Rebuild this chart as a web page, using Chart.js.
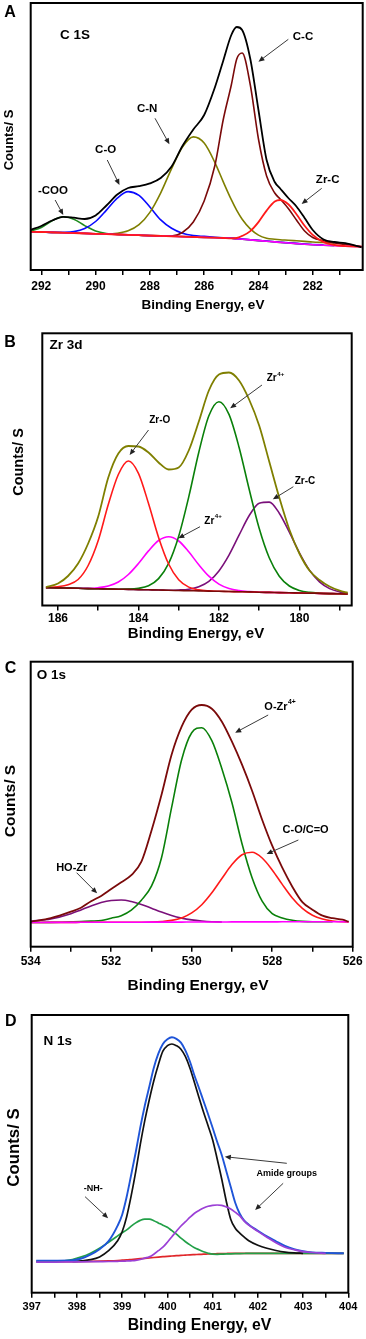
<!DOCTYPE html>
<html>
<head>
<meta charset="utf-8">
<script src="https://cdn.jsdelivr.net/npm/chart.js@4.4.1/dist/chart.umd.min.js"></script>
<style>
  html, body { margin:0; padding:0; background:#fff; }
  body { width:366px; height:1339px; position:relative; overflow:hidden; }
  canvas { position:absolute; left:0; }
</style>
</head>
<body>
<canvas id="cA" width="366" height="320" style="top:0px;width:366px;height:320px"></canvas>
<canvas id="cB" width="366" height="330" style="top:320px;width:366px;height:330px"></canvas>
<canvas id="cC" width="366" height="350" style="top:650px;width:366px;height:350px"></canvas>
<canvas id="cD" width="366" height="339" style="top:1000px;width:366px;height:339px"></canvas>
<script>
// ---------------- DATA (binding energy in eV, intensity in arbitrary counts) ----------------
// Panel A: C 1s
const A_eV    = [292.4, 292.0, 291.6, 291.2, 290.8, 290.4, 290.0, 289.6, 289.2, 288.8, 288.4, 288.0, 287.6, 287.2, 286.8, 286.4, 286.0, 285.6, 285.3, 285.0, 284.8, 284.6, 284.3, 284.0, 283.7, 283.4, 283.2, 282.9, 282.6, 282.3, 282.0, 281.6, 281.2, 280.8, 280.2];
const A_total = [40, 44, 49.5, 53.2, 52.3, 51.0, 54.5, 64.5, 75.5, 82, 83.8, 86.6, 92, 103.5, 124, 140.5, 155, 183, 209, 235, 243, 240, 211, 160, 110, 88, 81.5, 72, 63.5, 52, 40, 30.5, 28, 26.8, 22.7];
const A_CC    = [38.3, 38.0, 37.6, 37.3, 36.9, 36.6, 36.2, 35.9, 35.5, 35.2, 34.8, 34.4, 34.1, 34.0, 37.5, 48, 69, 105, 150, 185, 211, 217, 185, 131, 94, 77, 71, 61.5, 50, 39, 32.5, 29.3, 27, 25.5, 23.5];
const A_CN    = [38.3, 38.0, 37.6, 37.3, 36.9, 36.6, 36.2, 36.2, 36.8, 39.2, 45.3, 57.6, 77.2, 101.4, 123.0, 133.1, 126.9, 107.2, 88.4, 70.3, 59.6, 50.8, 41.1, 34.9, 31.8, 30.8, 30.3, 29.8, 29.2, 28.6, 28.0, 27.5, 27.0, null, null];
const A_CO    = [38.3, 38.0, 37.6, 37.7, 38.4, 41.5, 48.5, 59.9, 71.9, 78.4, 74.6, 63.0, 50.1, 41.7, 36.8, 34.5, 33.6, 32.8, 32.3, 31.9, 31.4, 31.0, 30.3, 29.6, 29.0, 28.3, 27.8, 27.2, 26.6, 26.0, 25.5, 25.0, null, null, null];
const A_COO   = [38.8, 42.5, 49.2, 53.2, 50.8, 44.4, 39.0, 36.5, 35.6, 35.2, 34.8, 34.4, 34.1, 33.7, 33.4, 33.0, 32.6, 32.3, 32.0, 31.7, 31.2, 30.8, 30.1, 29.4, 28.8, 28.1, 27.6, 27.0, 26.4, 25.8, 25.3, 24.8, 24.3, null, null];
const A_ZrC   = [38.3, 38.0, 37.6, 37.3, 36.9, 36.6, 36.2, 35.9, 35.5, 35.2, 34.8, 34.4, 34.1, 33.7, 33.4, 33.0, 32.6, 32.3, 32.0, 31.7, 32.0, 34.1, 38.9, 47.9, 59.4, 68.4, 70.0, 65.7, 55.8, 44.3, 35.1, 27.9, 25.0, 23.9, 23.3];
const A_base  = [38.3, 38.0, 37.6, 37.3, 36.9, 36.6, 36.2, 35.9, 35.5, 35.2, 34.8, 34.4, 34.1, 33.7, 33.4, 33.0, 32.6, 32.3, 32.0, 31.7, 31.2, 30.8, 30.1, 29.4, 28.8, 28.1, 27.6, 27.0, 26.4, 25.8, 25.3, 24.8, 24.3, 23.8, 23.3];
const A_ticks  = [281, 282, 283, 284, 285, 286, 287, 288, 289, 290, 291, 292];
const A_labels = [282, 284, 286, 288, 290, 292];

// Panel B: Zr 3d
const B_eV     = [186.3, 186.0, 185.75, 185.5, 185.25, 185.0, 184.75, 184.5, 184.25, 184.0, 183.75, 183.5, 183.25, 183.0, 182.75, 182.5, 182.25, 182.0, 181.75, 181.5, 181.25, 181.0, 180.75, 180.5, 180.25, 180.0, 179.75, 179.5, 179.25, 179.0, 178.8];
const B_total  = [18.5, 22, 29.5, 42, 62, 89, 128, 152, 159.5, 159, 153, 143, 136, 138, 155, 184, 215, 231, 233, 225, 206, 180, 144, 108, 76, 52, 35, 25.5, 19, 14.8, 12.8];
const B_ZrO    = [18.0, 18.8, 20.8, 26, 40, 65, 101, 131, 144.5, 132.2, 102.0, 68.1, 41.5, 25.8, 18.4, 15.6, 14.6, 14.2, 14.0, 13.8, 13.6, 13.3, 13.1, 12.9, 12.7, 12.5, 12.3, 12.1, 11.9, 11.7, 11.5];
const B_Zr4b   = [17.8, 17.6, 17.4, 17.2, 17.2, 17.8, 19.5, 23.5, 31.0, 42.0, 54.6, 65.0, 68.8, 64.5, 53.7, 40.7, 29.3, 21.4, 17.0, 14.9, 13.9, 13.3, 13.1, 12.9, 12.7, 12.5, 12.3, 12.1, 11.9, 11.7, 11.5];
const B_Zr4a   = [17.8, 17.6, 17.4, 17.2, 16.9, 16.7, 16.5, 16.3, 16.4, 17.2, 19.8, 26.9, 42.1, 69.3, 108.6, 153.3, 189.7, 203.8, 191.1, 158.3, 116.5, 77.2, 47.7, 29.3, 19.5, 15.0, 13.1, 12.3, 11.9, 11.7, 11.5];
const B_ZrC    = [17.8, 17.6, 17.4, 17.2, 16.9, 16.7, 16.5, 16.3, 16.1, 15.9, 15.7, 15.5, 15.2, 15.5, 16.3, 18.8, 24.2, 34.6, 50.4, 70.3, 89.7, 102.3, 103.4, 92.3, 73.3, 52.7, 35.4, 23.6, 16.9, 13.6, 12.2];
const B_base   = [17.8, 17.6, 17.4, 17.2, 16.9, 16.7, 16.5, 16.3, 16.1, 15.9, 15.7, 15.5, 15.2, 15.0, 14.8, 14.6, 14.4, 14.2, 14.0, 13.8, 13.6, 13.3, 13.1, 12.9, 12.7, 12.5, 12.3, 12.1, 11.9, 11.7, 11.5];
const B_ticks  = [179, 180, 181, 182, 183, 184, 185, 186];
const B_labels = [180, 182, 184, 186];

// Panel C: O 1s
const C_eV     = [534.0, 533.5, 533.0, 532.75, 532.5, 532.25, 532.0, 531.75, 531.5, 531.25, 531.0, 530.75, 530.5, 530.25, 530.0, 529.75, 529.5, 529.25, 529.0, 528.75, 528.5, 528.25, 528.0, 527.75, 527.5, 527.25, 527.0, 526.75, 526.5, 526.25, 526.1];
const C_total  = [25, 28.6, 35, 39, 45.4, 50.8, 57.7, 64.5, 71.5, 85, 116, 152, 192, 220, 237, 241.7, 238, 225, 205, 182, 156, 127, 101, 79, 60, 44.5, 37, 31, 28.5, 27, 25];
const C_OZr    = [24.2, 24.3, 24.8, 25.1, 25.6, 26.2, 28.5, 31, 36.5, 46.5, 60.5, 89, 139, 187, 214, 219, 206, 178, 144, 103, 69, 45.5, 33, 28.8, 26.5, 25.3, 24.9, 24.9, 25.0, null, null];
const C_CO     = [24.2, 24.3, 24.3, 24.4, 24.4, 24.4, 24.5, 24.5, 24.5, 24.5, 24.7, 25.2, 26.3, 28.8, 33.8, 42.0, 53.9, 68.2, 82.1, 91.9, 94.4, 88.7, 76.8, 62.3, 48.7, 38.3, 31.4, 27.6, 25.7, 24.9, 24.8];
const C_HOZr   = [25.4, 27.7, 33.0, 36.8, 40.7, 44.1, 46.2, 46.7, 45.2, 42.3, 38.5, 34.6, 31.2, 28.6, 26.8, 25.7, 25.0, 24.7, null, null, null, null, null, null, null, null, null, null, null, null, null];
const C_base   = [24.2, 24.3, 24.3, 24.4, 24.4, 24.4, 24.5, 24.5, 24.5, 24.5, 24.6, 24.6, 24.6, 24.6, 24.7, 24.7, 24.7, 24.7, 24.8, 24.8, 24.8, 24.8, 24.8, 24.9, 24.9, 24.9, 24.9, 25.0, 25.0, 25.0, 25.0];
const C_ticks  = [526, 527, 528, 529, 530, 531, 532, 533, 534];
const C_labels = [526, 528, 530, 532, 534];

// Panel D: N 1s
const D_eV     = [397.1, 397.5, 397.9, 398.1, 398.3, 398.5, 398.7, 398.9, 399.0, 399.1, 399.2, 399.3, 399.4, 399.5, 399.6, 399.7, 399.8, 399.9, 400.0, 400.1, 400.2, 400.3, 400.4, 400.5, 400.6, 400.7, 400.8, 400.9, 401.0, 401.1, 401.2, 401.3, 401.4, 401.5, 401.6, 401.7, 401.8, 402.0, 402.2, 402.4, 402.6, 402.8, 403.0, 403.2, 403.5, 403.9];
const D_total  = [32.0, 32.1, 32.5, 34.2, 38.0, 43.5, 51.5, 67, 78, 96, 118, 140.5, 165, 187, 206, 225, 239, 248.8, 253.5, 255.4, 253.8, 250, 242, 231, 217, 204.5, 191.5, 178.5, 165, 151, 138, 122, 106, 90, 79, 72, 68, 62, 56.3, 51.4, 46.8, 43.5, 41.5, 40.3, 39.8, 39.4];
const D_fit    = [null, null, 31.2, 31.8, 33.0, 35.8, 42, 52, 61, 76, 97, 121, 148, 172, 193, 212, 228, 241.5, 247, 248.7, 247, 243.5, 236, 224.5, 210, 195, 180.5, 167, 153, 134, 114, 92, 73.5, 64.5, 59.5, 55.5, 52, 47.5, 44.4, 42.2, 40.6, 39.8, 39.4, null, null, null];
const D_NH     = [31.0, 31.1, 33.2, 35.8, 39.5, 44.5, 50.5, 56.8, 60, 62.8, 66.5, 69.8, 72.3, 73.6, 73.5, 72, 69.8, 67.5, 65.5, 62, 58.5, 54.5, 51, 47.8, 45, 42.9, 41, 39.5, 38.5, 38.4, 38.6, 38.8, 38.9, 39.0, 39.1, 39.2, 39.3, 39.4, 39.4, 39.4, 39.4, 39.4, 39.4, 39.4, 39.4, 39.4];
const D_amide  = [30.5, 30.6, 30.8, 30.9, 31.0, 31.1, 31.2, 31.4, 31.5, 31.7, 31.9, 32.3, 33.2, 34.6, 35.8, 38.5, 42, 45.5, 50.5, 56, 61.5, 66.7, 71, 75.5, 79.5, 82.3, 84.8, 86.5, 87.4, 87.7, 87.3, 85.8, 83.8, 80.5, 76.8, 71.5, 67.5, 61.3, 55.5, 50, 45.5, 43, 41, 40.2, 39.4, null];
const D_base   = [31.0, 31.0, 31.1, 31.2, 31.3, 31.5, 31.8, 32.2, 32.5, 32.8, 33.2, 33.6, 34.0, 34.4, 34.8, 35.2, 35.6, 36.0, 36.4, 36.7, 37.0, 37.3, 37.6, 37.9, 38.1, 38.3, 38.5, 38.7, 38.9, 39.0, 39.1, 39.2, 39.3, 39.3, 39.4, 39.4, 39.4, 39.4, 39.4, 39.4, 39.4, 39.4, 39.4, 39.4, 39.4, 39.4];
const D_ticks  = [397, 397.5, 398, 398.5, 399, 399.5, 400, 400.5, 401, 401.5, 402, 402.5, 403, 403.5, 404];
const D_labels = [397, 398, 399, 400, 401, 402, 403, 404];

const X_TITLE = 'Binding Energy, eV';
const Y_TITLE = 'Counts/ S';

// ---------------- STYLE / LAYOUT ----------------
const FONT = "'Liberation Sans', Arial, Helvetica, sans-serif";

// axis-title placement (canvas pixels) and annotation anchors (data units)
const NOTES = {
  cA: { font: 11.5, xt: {c:[203, 305], s:13.5}, yt: {c:[9, 140], s:13}, items: [
    {k:'letter', t:'A', p:[10, 12.5]},
    {k:'head', t:'C 1S', at:[291.31, 235]},
    {k:'text', t:'-COO', at:[291.57, 79.5]}, {k:'arrow', a:[291.49, 70], b:[291.19, 55]},
    {k:'text', t:'C-O', at:[289.63, 120.5]}, {k:'arrow', a:[289.57, 110], b:[289.12, 85]},
    {k:'text', t:'C-N', at:[288.10, 161]}, {k:'arrow', a:[287.81, 151.7], b:[287.28, 125.7]},
    {k:'text', t:'C-C', at:[282.36, 233]}, {k:'arrow', a:[282.90, 230.7], b:[284.0, 208.3]},
    {k:'text', t:'Zr-C', at:[281.45, 90]}, {k:'arrow', a:[281.67, 81.7], b:[282.41, 66]}
  ]},
  cB: { font: 10, xt: {c:[196, 314], s:15}, yt: {c:[19, 142], s:14.5}, items: [
    {k:'letter', t:'B', p:[10, 22.5]},
    {k:'head', t:'Zr 3d', at:[186.21, 260.5]},
    {k:'text', t:'Zr-O', at:[183.47, 185.2]}, {k:'arrow', a:[183.75, 175.5], b:[184.22, 150.5]},
    {k:'text', t:'Zr', sup:'4+', at:[180.60, 227.5]}, {k:'arrow', a:[180.93, 220.5], b:[181.72, 197.2]},
    {k:'text', t:'Zr', sup:'4+', at:[182.15, 84.7]}, {k:'arrow', a:[182.47, 78.8], b:[183.01, 67.2]},
    {k:'text', t:'Zr-C', at:[179.86, 124.5]}, {k:'arrow', a:[180.15, 118.8], b:[180.66, 106.2]}
  ]},
  cC: { font: 11, xt: {c:[198, 336], s:15.5}, yt: {c:[11, 151], s:15.5}, items: [
    {k:'letter', t:'C', p:[10.5, 19]},
    {k:'head', t:'O 1s', at:[533.85, 271.4]},
    {k:'text', t:'O-Zr', sup:'4+', at:[527.81, 240]}, {k:'arrow', a:[528.10, 231.7], b:[528.92, 214]},
    {k:'text', t:'C-O/C=O', at:[527.17, 116.7]}, {k:'arrow', a:[527.35, 106.7], b:[528.14, 92.7]},
    {k:'text', t:'HO-Zr', at:[532.98, 78.7]}, {k:'arrow', a:[532.86, 74], b:[532.35, 53.4]}
  ]},
  cD: { font: 9, xt: {c:[199.5, 326], s:15.8}, yt: {c:[14.2, 147.5], s:16.8}, items: [
    {k:'letter', t:'D', p:[10.8, 21.7]},
    {k:'head', t:'N 1s', at:[397.26, 251]},
    {k:'text', t:'-NH-', at:[398.36, 103.7]}, {k:'arrow', a:[398.18, 96], b:[398.69, 74.4]},
    {k:'text', t:'Amide groups', at:[402.64, 119.4]},
    {k:'arrow', a:[402.64, 129.4], b:[401.27, 136]}, {k:'arrow', a:[402.56, 109.4], b:[401.94, 82.7]}
  ]}
};

function drawArrow(ctx, x1, y1, x2, y2) {
  const ang = Math.atan2(y2 - y1, x2 - x1), L = 6, W = 2.6;
  ctx.strokeStyle = '#3a3a3a'; ctx.fillStyle = '#222'; ctx.lineWidth = 1;
  ctx.beginPath(); ctx.moveTo(x1, y1);
  ctx.lineTo(x2 - L * 0.8 * Math.cos(ang), y2 - L * 0.8 * Math.sin(ang)); ctx.stroke();
  ctx.beginPath(); ctx.moveTo(x2, y2);
  ctx.lineTo(x2 - L * Math.cos(ang) + W * Math.sin(ang), y2 - L * Math.sin(ang) - W * Math.cos(ang));
  ctx.lineTo(x2 - L * Math.cos(ang) - W * Math.sin(ang), y2 - L * Math.sin(ang) + W * Math.cos(ang));
  ctx.closePath(); ctx.fill();
}

const notesPlugin = {
  id: 'notesDraw',
  afterDraw(chart) {
    const cfg = NOTES[chart.canvas.id]; if (!cfg) return;
    const {ctx, chartArea: a} = chart; const xs = chart.scales.x, ys = chart.scales.y;
    ctx.save();
    // frame
    ctx.strokeStyle = '#000'; ctx.lineWidth = 2;
    ctx.strokeRect(a.left, a.top, a.right - a.left, a.bottom - a.top);
    ctx.fillStyle = '#000'; ctx.textBaseline = 'middle'; ctx.textAlign = 'center';
    // axis titles
    ctx.font = 'bold ' + cfg.xt.s + 'px ' + FONT;
    ctx.fillText(X_TITLE, cfg.xt.c[0], cfg.xt.c[1]);
    ctx.save();
    ctx.translate(cfg.yt.c[0], cfg.yt.c[1]); ctx.rotate(-Math.PI / 2);
    ctx.font = 'bold ' + cfg.yt.s + 'px ' + FONT;
    ctx.fillText(Y_TITLE, 0, 0);
    ctx.restore();
    cfg.items.forEach(it => {
      if (it.k === 'arrow') {
        drawArrow(ctx, xs.getPixelForValue(it.a[0]), ys.getPixelForValue(it.a[1]),
                       xs.getPixelForValue(it.b[0]), ys.getPixelForValue(it.b[1]));
        return;
      }
      ctx.fillStyle = '#000';
      if (it.k === 'letter') {
        ctx.font = 'bold 16px ' + FONT; ctx.textAlign = 'center';
        ctx.fillText(it.t, it.p[0], it.p[1]); return;
      }
      const px = xs.getPixelForValue(it.at[0]), py = ys.getPixelForValue(it.at[1]);
      if (it.k === 'head') {
        ctx.font = 'bold 13.5px ' + FONT; ctx.textAlign = 'left';
        ctx.fillText(it.t, px, py); return;
      }
      const fs = cfg.font;
      ctx.font = 'bold ' + fs + 'px ' + FONT;
      const w1 = ctx.measureText(it.t).width;
      let w2 = 0;
      if (it.sup) { ctx.font = 'bold ' + (fs * 0.62) + 'px ' + FONT; w2 = ctx.measureText(it.sup).width; }
      const x0 = px - (w1 + w2) / 2;
      ctx.textAlign = 'left';
      ctx.font = 'bold ' + fs + 'px ' + FONT;
      ctx.fillText(it.t, x0, py);
      if (it.sup) {
        ctx.font = 'bold ' + (fs * 0.62) + 'px ' + FONT;
        ctx.fillText(it.sup, x0 + w1 + 0.5, py - fs * 0.42);
      }
    });
    ctx.restore();
  }
};

function series(xs, ys, color, width) {
  return {
    data: xs.map((x, i) => ({x: x, y: ys[i]})),
    borderColor: color, backgroundColor: color, borderWidth: width || 1.6,
    pointRadius: 0, fill: false, cubicInterpolationMode: 'monotone', spanGaps: false
  };
}

function makeChart(id, p) {
  const isLabel = (v) => p.labels.some(L => Math.abs(L - v) < 1e-6);
  return new Chart(document.getElementById(id), {
    type: 'line',
    data: { datasets: p.datasets },
    options: {
      responsive: false, animation: false, devicePixelRatio: 1,
      layout: { padding: { top: p.top, right: p.right, left: 0, bottom: 0 } },
      plugins: { legend: { display: false }, tooltip: { enabled: false } },
      scales: {
        x: {
          type: 'linear', reverse: p.reverse, min: p.min, max: p.max,
          afterBuildTicks: (s) => { s.ticks = p.ticks.map(v => ({ value: v })); },
          afterFit: (s) => { s.height = p.xHeight; },
          ticks: { autoSkip: false, maxRotation: 0, minRotation: 0, padding: p.tickPad, color: '#000',
                   font: { family: FONT, size: p.tickSize, weight: 'bold' },
                   callback: (v) => isLabel(v) ? String(Math.round(v)) : '' },
          grid: { drawOnChartArea: false, drawTicks: true, tickLength: 5, color: '#000', lineWidth: 1.5 },
          border: { display: false },
          title: { display: false }
        },
        y: {
          type: 'linear', min: 0, max: p.ymax,
          afterFit: (s) => { s.width = p.yWidth; },
          ticks: { display: false }, grid: { display: false }, border: { display: false },
          title: { display: false }
        }
      }
    },
    plugins: [notesPlugin]
  });
}

// Panel A (dataset 0 is drawn on top)
makeChart('cA', {
  reverse: true, min: 280.16, max: 292.39, ymax: 267,
  ticks: A_ticks, labels: A_labels, top: 3, right: 3.3, xHeight: 50, yWidth: 30.7,
  tickPad: 4, tickSize: 12,
  datasets: [
    series(A_eV, A_total, '#000000', 1.8),
    series(A_eV, A_ZrC, '#ff1a1a', 1.8),
    series(A_eV, A_base, '#ff00ff', 1.6),
    series(A_eV, A_CC, '#7a0a0a', 1.6),
    series(A_eV, A_CN, '#7f7f00', 1.6),
    series(A_eV, A_CO, '#0a0aff', 1.6),
    series(A_eV, A_COO, '#1e8c1e', 1.6)
  ]
});

// Panel B
makeChart('cB', {
  reverse: true, min: 178.7, max: 186.39, ymax: 272.2,
  ticks: B_ticks, labels: B_labels, top: 13.3, right: 14.3, xHeight: 44.5, yWidth: 42.3,
  tickPad: 1, tickSize: 12,
  datasets: [
    series(B_eV, B_total, '#7f7f00', 1.8),
    series(B_eV, B_base, '#7a0a0a', 1.6),
    series(B_eV, B_ZrO, '#ff1a1a', 1.6),
    series(B_eV, B_Zr4a, '#0a800a', 1.6),
    series(B_eV, B_Zr4b, '#ff00ff', 1.6),
    series(B_eV, B_ZrC, '#7a107a', 1.6)
  ]
});

// Panel C
makeChart('cC', {
  reverse: true, min: 526, max: 534, ymax: 285,
  ticks: C_ticks, labels: C_labels, top: 11.7, right: 13.3, xHeight: 53.3, yWidth: 30.7,
  tickPad: 3, tickSize: 12,
  datasets: [
    series(C_eV, C_total, '#7a0a0a', 1.8),
    series(C_eV, C_base, '#ff00ff', 1.6),
    series(C_eV, C_CO, '#ff1a1a', 1.6),
    series(C_eV, C_OZr, '#0a800a', 1.6),
    series(C_eV, C_HOZr, '#7a107a', 1.6)
  ]
});

// Panel D
makeChart('cD', {
  reverse: false, min: 397, max: 404, ymax: 277.7,
  ticks: D_ticks, labels: D_labels, top: 15, right: 17.7, xHeight: 46.3, yWidth: 31.7,
  tickPad: 2.4, tickSize: 11,
  datasets: [
    series(D_eV, D_amide, '#9b40d6', 1.7),
    series(D_eV, D_total, '#1f55d8', 1.9),
    series(D_eV, D_fit, '#111111', 1.7),
    series(D_eV, D_NH, '#22a048', 1.7),
    series(D_eV, D_base, '#e0262a', 1.7)
  ]
});
</script>
</body>
</html>
